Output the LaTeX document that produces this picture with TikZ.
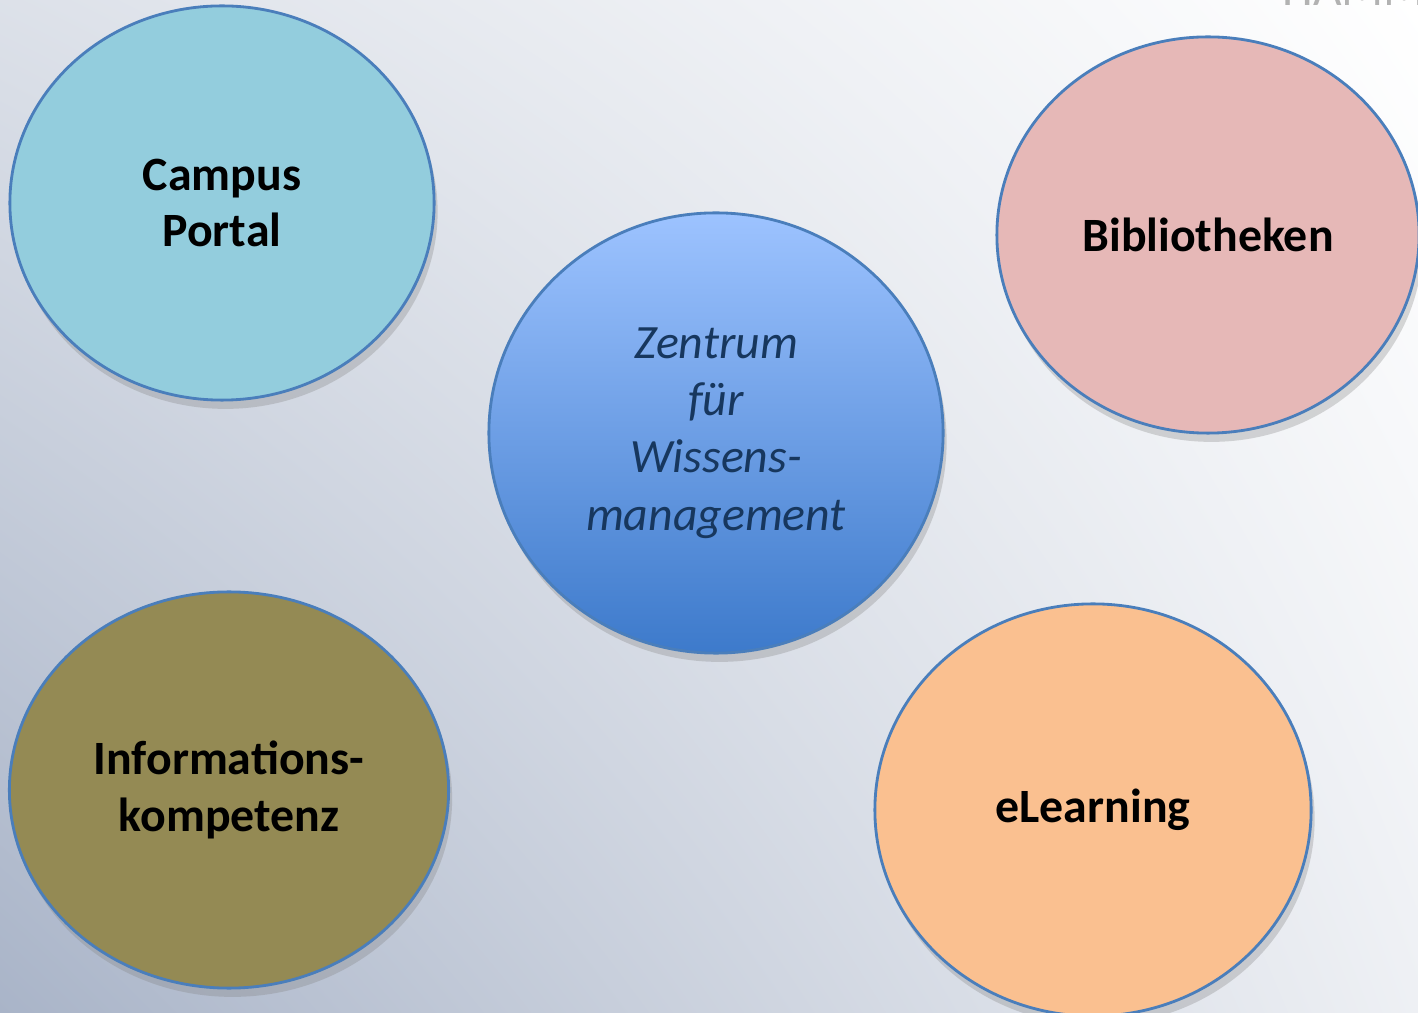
\documentclass[tikz,border=0pt]{standalone}
\usepackage{fontspec}
\setmainfont{Carlito}
\usetikzlibrary{shapes.geometric}
\usetikzlibrary{shadows}
\usetikzlibrary{shadings}
\usetikzlibrary{positioning}
\definecolor{bgdark}{HTML}{A9B4C8}
\definecolor{rimblue}{HTML}{4A7EBB}
\definecolor{campusfill}{HTML}{93CDDD}
\definecolor{bibfill}{HTML}{E6B8B7}
\definecolor{infofill}{HTML}{948A54}
\definecolor{elearnfill}{HTML}{FAC090}
\definecolor{zwtop}{HTML}{9DC3FF}
\definecolor{zwbottom}{HTML}{3D7ACB}
\definecolor{zwtext}{HTML}{17375E}

\begin{document}
\begin{tikzpicture}[x=0.01cm,y=-0.01cm,
    topic node/.style={ellipse,draw=rimblue,line width=0.8pt,inner sep=0pt,align=center,
      font=\fontsize{13.6}{16.2}\selectfont\bfseries,
      drop shadow={shadow xshift=1pt,shadow yshift=-2.5pt,opacity=0.3}},
    center node/.style={topic node,top color=zwtop,bottom color=zwbottom,
      font=\fontsize{13.6}{16.3}\selectfont\itshape,text=zwtext}]

  \useasboundingbox (0,0) rectangle (1418,1013);
  \clip (0,0) rectangle (1418,1013);
  \shade[lower left=bgdark,upper right=white,lower right=white!80!bgdark,upper left=white!60!bgdark]
    (0,0) rectangle (1418,1013);

  \node[font=\fontsize{14}{14}\selectfont,text=gray!60,anchor=base west,inner sep=0pt] (logo) at (1282,6) {HAMM-LI};

  \node[topic node,fill=campusfill,minimum width=4.24cm,minimum height=3.94cm] (campus) at (222,203) {Campus\\Portal};
  \node[topic node,fill=bibfill,minimum width=4.22cm,minimum height=3.96cm] (bib) at (1208,235) {Bibliotheken};
  \node[center node,minimum width=4.54cm,minimum height=4.40cm] (zfw) at (716,433) {\rule{0pt}{5pt}Zentrum\\für\\Wissens-\\management};
  \node[topic node,fill=infofill,minimum width=4.39cm,minimum height=3.96cm] (info) at (229,790) {Informations-\\kompetenz};
  \node[topic node,fill=elearnfill,minimum width=4.36cm,minimum height=4.12cm] (elearn) at (1093,810) {eLearning};

\end{tikzpicture}
\end{document}
